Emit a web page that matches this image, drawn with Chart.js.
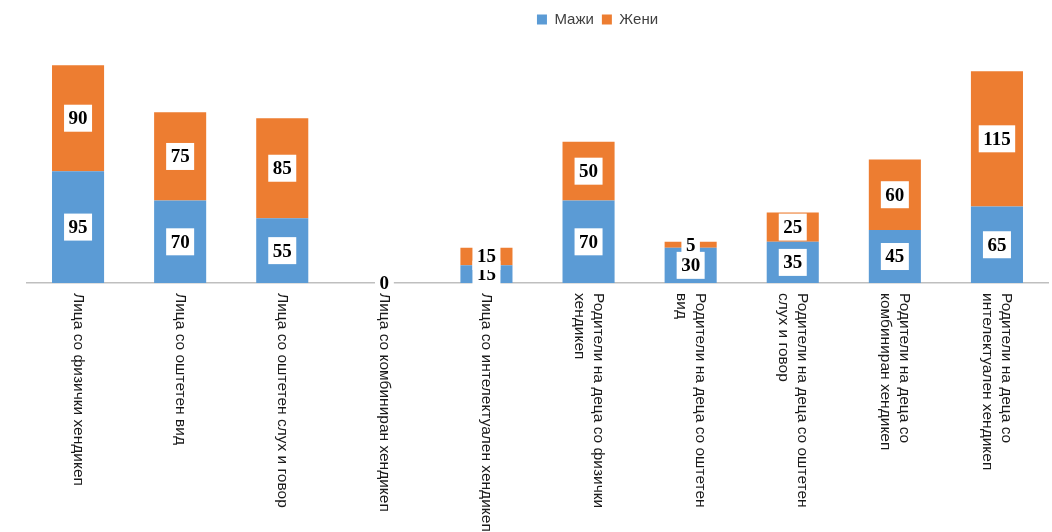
<!DOCTYPE html>
<html>
<head>
<meta charset="utf-8">
<script src="https://cdn.jsdelivr.net/npm/chart.js@4.4.0/dist/chart.umd.min.js"></script>
<style>
  html, body { margin: 0; padding: 0; background: #fff; }
  #wrap { width: 1052px; height: 532px; }
</style>
</head>
<body>
<div id="wrap"><canvas id="chart"></canvas></div>
<script>
// categories, each one split into lines as in the picture
let categories = [
    ["Лица со физички хендикеп"],
    ["Лица со оштетен вид"],
    ["Лица со оштетен слух и говор"],
    ["Лица со комбиниран хендикеп"],
    ["Лица со интелектуален хендикеп"],
    ["Родители на деца со физички", "хендикеп"],
    ["Родители на деца со оштетен", "вид"],
    ["Родители на деца со оштетен", "слух и говор"],
    ["Родители на деца со", "комбиниран хендикеп"],
    ["Родители на деца со", "интелектуален хендикеп"]
];
let men = [95, 70, 55, 0, 15, 70, 30, 35, 45, 65];
let women = [90, 75, 85, 0, 15, 50, 5, 25, 60, 115];

// labels under the axis, turned 90 degrees clockwise
const sideLabels = {
    id: 'sideLabels',
    afterDraw(chart) {
        let ctx = chart.ctx;
        let xs = chart.scales.x;
        let top = xs.top + 10;
        ctx.save();
        ctx.font = '15.5px "Liberation Sans", Arial, sans-serif';
        ctx.fillStyle = '#1a1a1a';
        ctx.textAlign = 'left';
        ctx.textBaseline = 'middle';
        categories.forEach(function (lines, i) {
            let x = xs.getPixelForValue(i);
            ctx.save();
            ctx.translate(x, top);
            ctx.rotate(Math.PI / 2);
            let lh = 19;
            lines.forEach(function (t, j) {
                ctx.fillText(t, 0, (j - (lines.length - 1) / 2) * lh);
            });
            ctx.restore();
        });
        ctx.restore();
    }
};

// white boxes with the values
const valueBoxes = {
    id: 'valueBoxes',
    afterDatasetsDraw(chart) {
        let ctx = chart.ctx;
        ctx.save();
        ctx.font = 'bold 19px "Liberation Serif", "Times New Roman", serif';
        ctx.textAlign = 'center';
        ctx.textBaseline = 'middle';
        chart.data.datasets.forEach(function (ds, di) {
            let meta = chart.getDatasetMeta(di);
            meta.data.forEach(function (bar, i) {
                let txt = String(ds.data[i]);
                let cy = (bar.y + bar.base) / 2;
                let w = ctx.measureText(txt).width + 9;
                let h = 27;
                ctx.fillStyle = '#ffffff';
                ctx.fillRect(bar.x - w / 2, cy - h / 2, w, h);
                ctx.fillStyle = '#000000';
                ctx.fillText(txt, bar.x, cy + 1);
            });
        });
        ctx.restore();
    }
};

// the legend sits a bit right of the middle
const legendShift = {
    id: 'legendShift',
    afterLayout(chart) {
        chart.legend.left += 60;
        chart.legend.right += 60;
    }
};

new Chart(document.getElementById('chart'), {
    type: 'bar',
    data: {
        labels: categories.map(function (c) { return c.join(' '); }),
        datasets: [
            { label: 'Мажи', data: men, backgroundColor: '#5b9bd5' },
            { label: 'Жени', data: women, backgroundColor: '#ed7d31' }
        ]
    },
    options: {
        responsive: true,
        maintainAspectRatio: false,
        animation: false,
        layout: { padding: { left: 27, right: 4, top: 4, bottom: 241 } },
        datasets: { bar: { barPercentage: 0.51, categoryPercentage: 1.0 } },
        plugins: {
            legend: {
                position: 'top',
                labels: {
                    boxWidth: 10,
                    boxHeight: 10,
                    padding: 8,
                    color: '#404040',
                    font: { family: '"Liberation Sans", Arial, sans-serif', size: 15 }
                }
            },
            tooltip: { enabled: false }
        },
        scales: {
            x: {
                stacked: true,
                grid: { display: false },
                border: { display: true, color: '#bfbfbf', width: 1.5 },
                ticks: { display: false }
            },
            y: {
                stacked: true,
                display: false,
                min: 0,
                max: 209
            }
        }
    },
    plugins: [valueBoxes, sideLabels, legendShift]
});
</script>
</body>
</html>
